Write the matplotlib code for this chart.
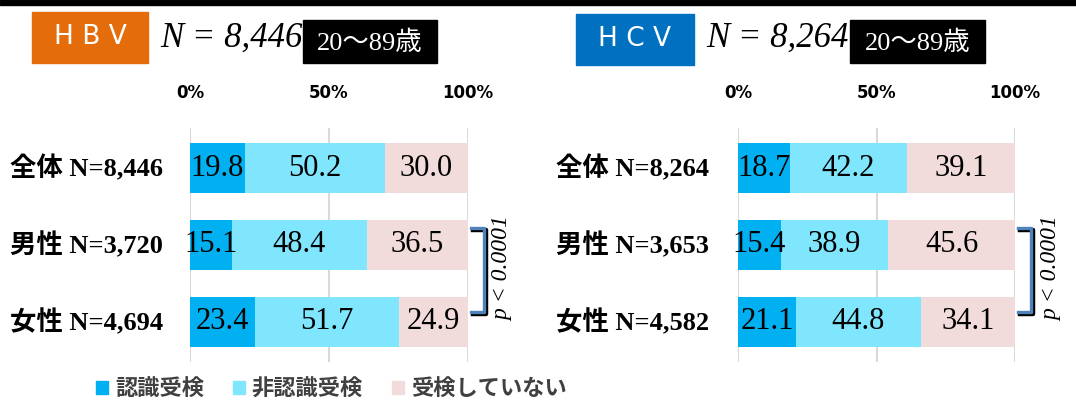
import matplotlib
matplotlib.use("Agg")
import matplotlib.pyplot as plt
from matplotlib.patches import Rectangle, Patch
from matplotlib.lines import Line2D
from matplotlib.transforms import blended_transform_factory

W, H = 1076, 403
categories_hbv = ["全体 N=8,446", "男性 N=3,720", "女性 N=4,694"]
categories_hcv = ["全体 N=8,264", "男性 N=3,653", "女性 N=4,582"]
series_names = ["認識受検", "非認識受検", "受検していない"]
hbv_values = [[19.8, 15.1, 23.4], [50.2, 48.4, 51.7], [30.0, 36.5, 24.9]]
hcv_values = [[18.7, 15.4, 21.1], [42.2, 38.9, 44.8], [39.1, 45.6, 34.1]]
tick_vals = [0, 50, 100]
tick_labels = ["0%", "50%", "100%"]
colors = ["#00B0F0", "#80E6FE", "#F2DCDB"]

SERIF_CJK = ["Liberation Serif", "Noto Sans CJK JP"]
fig = plt.figure(figsize=(W / 100, H / 100), dpi=100)

def fx(px):
    return px / W

def fy(py):
    return 1 - py / H

# top black band
fig.patches.append(Rectangle((0, fy(5)), 1, 5 / H, transform=fig.transFigure,
                             color="black", zorder=0))

def header(x0, x1, y0, y1, color, name, ntext, nx, bx0, bx1):
    fig.patches.append(Rectangle((fx(x0), fy(y1)), fx(x1 - x0), (y1 - y0) / H,
                                 transform=fig.transFigure, color=color))
    fig.text(fx((x0 + x1) / 2), fy((y0 + y1) / 2), name, color="white",
             fontsize=19, ha="center", va="center", family="DejaVu Sans")
    fig.text(fx(nx), fy(38), ntext, fontsize=25, style="italic",
             family="Liberation Serif", ha="left", va="center")
    fig.patches.append(Rectangle((fx(bx0), fy(63)), fx(bx1 - bx0), 43 / H,
                                 transform=fig.transFigure, color="black"))
    fig.text(fx((bx0 + bx1) / 2), fy(43), "20～89歳", color="white", fontsize=19,
             family=SERIF_CJK, ha="center", va="center")

header(32, 148, 12, 63, "#E46C0A", "H B V", "N = 8,446", 160, 303, 437)
header(576, 694, 14, 65, "#0070C0", "H C V", "N = 8,264", 706, 850, 985)

def panel(x0, x1, cats, vals, label_x, br_x, p_x):
    ax = fig.add_axes([fx(x0), fy(362), fx(x1 - x0), (362 - 128) / H])
    y = list(range(len(cats)))
    left = [0] * len(cats)
    for s, (name, v) in enumerate(zip(series_names, vals)):
        bars = ax.barh(y, v, left=left, height=0.65, color=colors[s], label=name, zorder=2)
        for i, b in enumerate(bars):
            ax.text(left[i] + v[i] / 2, i, f"{v[i]:.1f}", ha="center", va="center",
                    fontsize=22, family="Liberation Serif", zorder=3)
        left = [l + a for l, a in zip(left, v)]
    ax.set_xlim(0, 100)
    ax.set_ylim(2.52, -0.52)
    ax.set_xticks(tick_vals)
    ax.set_xticklabels(tick_labels, fontsize=12, fontweight="bold")
    ax.xaxis.tick_top()
    ax.tick_params(axis="x", length=0, pad=19)
    ax.set_yticks([])
    ax.grid(axis="x", color="#D9D9D9", linewidth=1.5, zorder=0)
    for sp in ax.spines.values():
        sp.set_visible(False)
    ax.patch.set_alpha(0)
    tr = blended_transform_factory(fig.transFigure, ax.transData)
    for i, c in enumerate(cats):
        ax.text(fx(label_x), i, c, transform=tr,
                ha="left", va="center", fontsize=19, fontweight="bold", family=SERIF_CJK)
    # bracket
    xs = [fx(br_x), fx(br_x + 13), fx(br_x + 13), fx(br_x)]
    ys = [fy(228), fy(228), fy(312), fy(312)]
    fig.add_artist(Line2D([x + fx(2) for x in xs], [v - 2 / H for v in ys],
                          transform=fig.transFigure, color="black", linewidth=3.2,
                          solid_joinstyle="round"))
    fig.add_artist(Line2D(xs, ys, transform=fig.transFigure, color="#4F81BD",
                          linewidth=2.4, solid_joinstyle="round"))
    fig.text(fx(p_x), fy(269), "p < 0.0001", rotation=90, style="italic",
             family="Liberation Serif", fontsize=17, ha="center", va="center")
    return ax

ax1 = panel(190, 468, categories_hbv, hbv_values, 10, 471, 503)
ax2 = panel(738, 1015, categories_hcv, hcv_values, 556, 1018, 1052)

handles = [Patch(color=c) for c in colors]
fig.legend(handles, series_names, loc="center left", bbox_to_anchor=(fx(76), fy(389)),
           ncol=3, frameon=False, handlelength=0.55, handleheight=0.55, handletextpad=0.3,
           columnspacing=1.3, prop={"family": "Noto Sans CJK JP", "size": 16, "weight": "bold"},
           labelcolor="#404040")

fig.savefig("out.png", dpi=100)
